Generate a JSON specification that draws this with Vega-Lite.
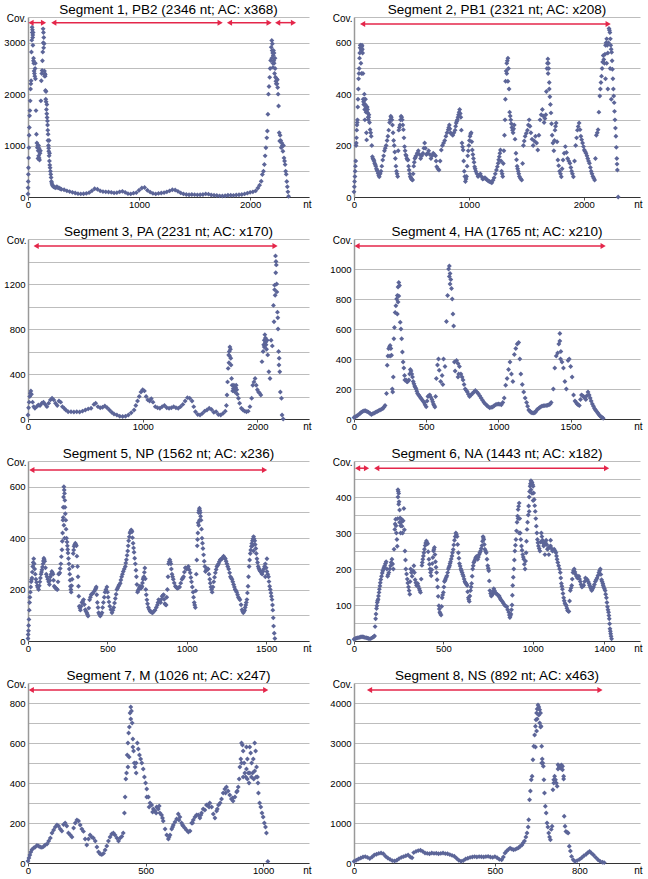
{
"$schema": "https://vega.github.io/schema/vega-lite/v6.json",
"padding": {"left": 3, "top": 2, "right": 2, "bottom": 2},
"datasets": {
"p1": [{"x":0,"y":60},{"x":1,"y":180},{"x":2,"y":300},{"x":3,"y":440},{"x":4,"y":570},{"x":6,"y":760},{"x":8,"y":960},{"x":10,"y":1200},{"x":12,"y":1350},{"x":14,"y":1580},{"x":17,"y":1680},{"x":20,"y":1870},{"x":23,"y":2100},{"x":26,"y":2200},{"x":28,"y":2260},{"x":31,"y":2820},{"x":34,"y":3050},{"x":37,"y":3300},{"x":40,"y":3250},{"x":43,"y":3150},{"x":46,"y":3200},{"x":49,"y":2650},{"x":52,"y":2600},{"x":55,"y":2450},{"x":58,"y":2400},{"x":61,"y":2350},{"x":64,"y":2500},{"x":67,"y":2300},{"x":72,"y":1680},{"x":76,"y":1220},{"x":80,"y":1050},{"x":84,"y":960},{"x":88,"y":1000},{"x":92,"y":900},{"x":96,"y":800},{"x":100,"y":760},{"x":104,"y":720},{"x":108,"y":850},{"x":112,"y":900},{"x":116,"y":1870},{"x":120,"y":2260},{"x":124,"y":2400},{"x":127,"y":2460},{"x":130,"y":2650},{"x":133,"y":2820},{"x":136,"y":3270},{"x":139,"y":3200},{"x":142,"y":3100},{"x":145,"y":2980},{"x":148,"y":2450},{"x":151,"y":2400},{"x":154,"y":2350},{"x":157,"y":2070},{"x":160,"y":1900},{"x":163,"y":1850},{"x":166,"y":1700},{"x":169,"y":1620},{"x":172,"y":1545},{"x":175,"y":1480},{"x":178,"y":1300},{"x":181,"y":1220},{"x":184,"y":1000},{"x":187,"y":890},{"x":190,"y":800},{"x":193,"y":700},{"x":196,"y":620},{"x":199,"y":570},{"x":202,"y":500},{"x":205,"y":440},{"x":208,"y":380},{"x":211,"y":300},{"x":214,"y":270},{"x":218,"y":240},{"x":222,"y":220},{"x":230,"y":200},{"x":240,"y":190},{"x":250,"y":180},{"x":260,"y":200},{"x":270,"y":180},{"x":280,"y":176},{"x":290,"y":160},
{"x":38,"y":3200},{"x":42,"y":3100},{"x":44,"y":2950},{"x":50,"y":2700},{"x":66,"y":2600},{"x":90,"y":750},{"x":95,"y":1000},{"x":100,"y":950},{"x":138,"y":3000},{"x":141,"y":2900},{"x":150,"y":2350},{"x":155,"y":2380},{"x":162,"y":2050},{"x":170,"y":1800},{"x":176,"y":1400},{"x":180,"y":1100},{"x":186,"y":950},{"x":190,"y":1100},{"x":194,"y":850},
{"x":300,"y":150},{"x":325,"y":140},{"x":350,"y":120},{"x":375,"y":105},{"x":400,"y":90},{"x":425,"y":78},{"x":450,"y":65},{"x":475,"y":60},{"x":500,"y":62},{"x":525,"y":70},{"x":550,"y":85},{"x":575,"y":120},{"x":600,"y":160},{"x":625,"y":150},{"x":650,"y":120},{"x":675,"y":105},{"x":700,"y":100},{"x":725,"y":98},{"x":750,"y":90},{"x":775,"y":80},{"x":800,"y":85},{"x":825,"y":100},{"x":850,"y":110},{"x":875,"y":90},{"x":900,"y":65},{"x":925,"y":60},{"x":950,"y":75},{"x":975,"y":85},{"x":1000,"y":130},{"x":1025,"y":175},{"x":1050,"y":185},{"x":1075,"y":130},{"x":1100,"y":95},{"x":1125,"y":70},{"x":1150,"y":60},{"x":1175,"y":70},{"x":1200,"y":78},{"x":1225,"y":85},{"x":1250,"y":100},{"x":1275,"y":120},{"x":1300,"y":140},{"x":1325,"y":135},{"x":1350,"y":110},{"x":1375,"y":80},{"x":1400,"y":60},{"x":1425,"y":50},{"x":1450,"y":45},{"x":1475,"y":48},{"x":1500,"y":46},{"x":1525,"y":42},{"x":1550,"y":45},{"x":1575,"y":50},{"x":1600,"y":60},{"x":1625,"y":55},{"x":1650,"y":40},{"x":1675,"y":33},{"x":1700,"y":28},{"x":1725,"y":22},{"x":1750,"y":20},{"x":1775,"y":25},{"x":1800,"y":33},{"x":1825,"y":35},{"x":1850,"y":32},{"x":1875,"y":38},{"x":1900,"y":45},{"x":1925,"y":48},{"x":1950,"y":60},{"x":1975,"y":75},{"x":2000,"y":90},{"x":2025,"y":100},{"x":2050,"y":120},{"x":2070,"y":176},
{"x":2085,"y":230},{"x":2100,"y":306},{"x":2110,"y":437},{"x":2120,"y":500},{"x":2128,"y":632},{"x":2135,"y":800},{"x":2142,"y":958},{"x":2150,"y":1150},{"x":2155,"y":1284},{"x":2160,"y":1610},{"x":2165,"y":2000},{"x":2170,"y":2150},{"x":2176,"y":2327},{"x":2180,"y":2500},{"x":2185,"y":2653},{"x":2190,"y":2914},{"x":2195,"y":3044},{"x":2200,"y":2980},{"x":2203,"y":2800},{"x":2206,"y":2520},{"x":2210,"y":2850},{"x":2213,"y":2650},{"x":2216,"y":2600},{"x":2220,"y":2400},{"x":2224,"y":2700},{"x":2228,"y":2330},{"x":2232,"y":2250},{"x":2238,"y":2300},{"x":2242,"y":2200},{"x":2248,"y":2130},{"x":2252,"y":2000},{"x":2256,"y":1770},{"x":2262,"y":1250},{"x":2266,"y":1090},{"x":2270,"y":1200},{"x":2275,"y":1100},{"x":2280,"y":960},{"x":2285,"y":1050},{"x":2290,"y":1000},{"x":2295,"y":890},{"x":2300,"y":1000},{"x":2305,"y":760},{"x":2310,"y":700},{"x":2315,"y":630},{"x":2320,"y":500},{"x":2325,"y":440},{"x":2330,"y":300},{"x":2335,"y":200},{"x":2340,"y":100},{"x":2346,"y":13},
{"x":2195,"y":2700},{"x":2205,"y":2600},{"x":2215,"y":2800},{"x":2198,"y":2850},{"x":2208,"y":2750},{"x":2225,"y":2500},{"x":2235,"y":2200},{"x":2245,"y":2280}],
"p2": [{"x":0,"y":20},{"x":5,"y":60},{"x":10,"y":100},{"x":15,"y":140},{"x":18,"y":200},{"x":22,"y":230},{"x":26,"y":280},{"x":30,"y":300},{"x":35,"y":380},{"x":40,"y":460},{"x":45,"y":500},{"x":50,"y":560},{"x":55,"y":590},{"x":60,"y":580},{"x":65,"y":570},{"x":70,"y":590},{"x":75,"y":560},{"x":80,"y":380},{"x":85,"y":360},{"x":90,"y":400},{"x":95,"y":300},{"x":100,"y":380},{"x":105,"y":330},{"x":110,"y":222},{"x":115,"y":350},{"x":120,"y":327},{"x":125,"y":300},{"x":130,"y":320},{"x":140,"y":262},{"x":150,"y":236},{"x":160,"y":157},{"x":170,"y":145},{"x":180,"y":131},{"x":190,"y":120},{"x":200,"y":105},{"x":210,"y":92},{"x":220,"y":79},{"x":235,"y":100},{"x":250,"y":144},{"x":265,"y":180},{"x":280,"y":200},{"x":295,"y":236},{"x":310,"y":290},{"x":320,"y":314},{"x":330,"y":300},{"x":340,"y":250},{"x":350,"y":200},{"x":360,"y":150},{"x":370,"y":100},{"x":380,"y":80},{"x":390,"y":260},{"x":400,"y":280},{"x":410,"y":314},{"x":420,"y":300},{"x":430,"y":262},{"x":440,"y":196},{"x":450,"y":164},{"x":460,"y":150},{"x":470,"y":144},{"x":480,"y":105},{"x":490,"y":80},{"x":500,"y":70},{"x":510,"y":66},{"x":520,"y":120},{"x":530,"y":150},{"x":540,"y":160},{"x":560,"y":180},{"x":580,"y":150},{"x":600,"y":170},{"x":615,"y":210},{"x":630,"y":165},{"x":650,"y":180},{"x":670,"y":150},{"x":690,"y":170},{"x":710,"y":160},{"x":720,"y":118},{"x":740,"y":105},{"x":760,"y":183},{"x":780,"y":210},{"x":800,"y":236},{"x":820,"y":262},{"x":830,"y":280},{"x":840,"y":250},{"x":860,"y":240},{"x":880,"y":260},{"x":890,"y":288},{"x":900,"y":300},{"x":910,"y":320},{"x":920,"y":340},{"x":930,"y":310},{"x":940,"y":210},{"x":950,"y":183},{"x":960,"y":100},{"x":970,"y":60},{"x":980,"y":80},{"x":990,"y":160},{"x":1000,"y":200},{"x":1010,"y":236},{"x":1020,"y":250},{"x":1030,"y":183},{"x":1040,"y":150},{"x":1050,"y":118},{"x":1060,"y":100},{"x":1080,"y":80},{"x":1100,"y":90},{"x":1120,"y":70},{"x":1140,"y":75},{"x":1160,"y":66},{"x":1180,"y":60},{"x":1200,"y":55},{"x":1220,"y":75},{"x":1240,"y":105},{"x":1255,"y":131},{"x":1265,"y":157},{"x":1275,"y":183},{"x":1285,"y":100},{"x":1295,"y":80},{"x":1305,"y":180},{"x":1315,"y":300},{"x":1320,"y":450},{"x":1330,"y":520},{"x":1340,"y":540},{"x":1345,"y":500},{"x":1355,"y":330},{"x":1365,"y":300},{"x":1375,"y":270},{"x":1385,"y":250},{"x":1395,"y":280},{"x":1410,"y":170},{"x":1420,"y":120},{"x":1430,"y":100},{"x":1440,"y":80},{"x":1460,"y":66},{"x":1475,"y":200},{"x":1490,"y":236},{"x":1510,"y":260},{"x":1525,"y":300},{"x":1540,"y":250},{"x":1560,"y":200},{"x":1580,"y":236},{"x":1600,"y":183},{"x":1620,"y":300},{"x":1640,"y":340},{"x":1655,"y":290},{"x":1670,"y":320},{"x":1680,"y":500},{"x":1688,"y":537},{"x":1695,"y":500},{"x":1705,"y":390},{"x":1715,"y":327},{"x":1725,"y":240},{"x":1740,"y":180},{"x":1750,"y":260},{"x":1760,"y":288},{"x":1775,"y":144},{"x":1790,"y":100},{"x":1805,"y":79},{"x":1820,"y":144},{"x":1840,"y":196},{"x":1860,"y":150},{"x":1880,"y":131},{"x":1895,"y":100},{"x":1910,"y":79},{"x":1930,"y":200},{"x":1945,"y":260},{"x":1960,"y":288},{"x":1975,"y":236},{"x":1990,"y":210},{"x":2005,"y":183},{"x":2020,"y":170},{"x":2035,"y":150},{"x":2050,"y":131},{"x":2065,"y":100},{"x":2080,"y":80},{"x":2095,"y":66},{"x":2110,"y":240},{"x":2125,"y":262},{"x":2140,"y":393},{"x":2150,"y":445},{"x":2160,"y":500},{"x":2170,"y":550},{"x":2180,"y":520},{"x":2190,"y":590},{"x":2200,"y":615},{"x":2210,"y":560},{"x":2220,"y":655},{"x":2228,"y":640},{"x":2235,"y":590},{"x":2243,"y":563},{"x":2250,"y":497},{"x":2258,"y":420},{"x":2265,"y":367},{"x":2272,"y":300},{"x":2280,"y":236},{"x":2288,"y":150},{"x":2293,"y":105},{"x":2300,"y":0},
{"x":60,"y":520},{"x":65,"y":480},{"x":1330,"y":480},{"x":1340,"y":450},{"x":1690,"y":480},{"x":1700,"y":420},{"x":2190,"y":460},{"x":2200,"y":520},{"x":2210,"y":420},{"x":2230,"y":500},{"x":2240,"y":380},
{"x":3,"y":40},{"x":8,"y":80},{"x":12,"y":120},{"x":20,"y":210},{"x":24,"y":260},{"x":28,"y":290},{"x":33,"y":350},{"x":38,"y":420},{"x":43,"y":480},{"x":48,"y":540},{"x":53,"y":580},{"x":58,"y":590},{"x":63,"y":575},{"x":68,"y":585},{"x":73,"y":575},{"x":78,"y":480},{"x":83,"y":370},{"x":88,"y":380},{"x":93,"y":340},{"x":98,"y":360},{"x":103,"y":350},{"x":108,"y":250},{"x":113,"y":330},{"x":118,"y":340},{"x":123,"y":310},{"x":128,"y":310},{"x":135,"y":290},{"x":145,"y":250},{"x":155,"y":200},{"x":165,"y":150},{"x":175,"y":140},{"x":185,"y":125},{"x":195,"y":110},{"x":205,"y":100},{"x":215,"y":85},{"x":228,"y":90},{"x":242,"y":120},{"x":258,"y":160},{"x":272,"y":190},{"x":288,"y":220},{"x":302,"y":260},{"x":315,"y":300},{"x":325,"y":310},{"x":335,"y":280},{"x":345,"y":220},{"x":355,"y":175},{"x":365,"y":120},{"x":375,"y":90},{"x":385,"y":180},{"x":395,"y":270},{"x":405,"y":300},{"x":415,"y":310},{"x":425,"y":280},{"x":435,"y":230},{"x":445,"y":180},{"x":455,"y":160},{"x":465,"y":145},{"x":475,"y":120},{"x":485,"y":90},{"x":495,"y":75},{"x":505,"y":68},{"x":515,"y":90},{"x":525,"y":135},{"x":535,"y":155},{"x":550,"y":170},{"x":570,"y":165},{"x":590,"y":160},{"x":608,"y":190},{"x":622,"y":190},{"x":640,"y":170},{"x":660,"y":165},{"x":680,"y":160},{"x":700,"y":165},{"x":715,"y":140},{"x":730,"y":110},{"x":750,"y":140},{"x":770,"y":200},{"x":790,"y":220},{"x":810,"y":250},{"x":825,"y":270},{"x":835,"y":265},{"x":850,"y":245},{"x":870,"y":250},{"x":885,"y":275},{"x":895,"y":295},{"x":905,"y":310},{"x":915,"y":330},{"x":925,"y":325},{"x":935,"y":260},{"x":945,"y":195},{"x":955,"y":140},{"x":965,"y":80},{"x":975,"y":70},{"x":985,"y":120},{"x":995,"y":180},{"x":1005,"y":220},{"x":1015,"y":245},{"x":1025,"y":215},{"x":1035,"y":165},{"x":1045,"y":135},{"x":1055,"y":110},{"x":1070,"y":90},{"x":1090,"y":85},{"x":1110,"y":80},{"x":1130,"y":72},{"x":1150,"y":70},{"x":1170,"y":62},{"x":1190,"y":58},{"x":1210,"y":65},{"x":1230,"y":90},{"x":1248,"y":118},{"x":1260,"y":145},{"x":1270,"y":170},{"x":1280,"y":140},{"x":1290,"y":90},{"x":1300,"y":130},{"x":1310,"y":240},{"x":1318,"y":380},{"x":1325,"y":490},{"x":1335,"y":530},{"x":1350,"y":420},{"x":1360,"y":315},{"x":1370,"y":285},{"x":1380,"y":260},{"x":1390,"y":265},{"x":1402,"y":225},{"x":1415,"y":145},{"x":1425,"y":110},{"x":1435,"y":90},{"x":1450,"y":72},{"x":1468,"y":130},{"x":1482,"y":218},{"x":1500,"y":248},{"x":1518,"y":280},{"x":1532,"y":275},{"x":1550,"y":225},{"x":1570,"y":218},{"x":1590,"y":210},{"x":1610,"y":240},{"x":1630,"y":320},{"x":1648,"y":315},{"x":1662,"y":305},{"x":1675,"y":410},{"x":1684,"y":520},{"x":1692,"y":520},{"x":1700,"y":445},{"x":1710,"y":360},{"x":1720,"y":285},{"x":1732,"y":210},{"x":1745,"y":220},{"x":1755,"y":275},{"x":1768,"y":215},{"x":1782,"y":122},{"x":1798,"y":90},{"x":1812,"y":110},{"x":1830,"y":170},{"x":1850,"y":173},{"x":1870,"y":140},{"x":1888,"y":115},{"x":1902,"y":90},{"x":1920,"y":140},{"x":1938,"y":230},{"x":1952,"y":274},{"x":1968,"y":262},{"x":1982,"y":223},{"x":1998,"y":196},{"x":2012,"y":177},{"x":2028,"y":160},{"x":2042,"y":140},{"x":2058,"y":115},{"x":2072,"y":90},{"x":2088,"y":73},{"x":2102,"y":150},{"x":2118,"y":250},{"x":2132,"y":330},{"x":2145,"y":420},{"x":2155,"y":470},{"x":2165,"y":525},{"x":2175,"y":535},{"x":2185,"y":555},{"x":2195,"y":600},{"x":2205,"y":590},{"x":2215,"y":600},{"x":2224,"y":648},{"x":2232,"y":615},{"x":2239,"y":575},{"x":2247,"y":530},{"x":2254,"y":460},{"x":2261,"y":393},{"x":2268,"y":333},{"x":2276,"y":268},{"x":2284,"y":193},{"x":2290,"y":128}],
"p3": [{"x":0,"y":35},{"x":5,"y":100},{"x":10,"y":150},{"x":15,"y":200},{"x":20,"y":230},{"x":25,"y":250},{"x":30,"y":220},{"x":40,"y":150},{"x":50,"y":110},{"x":60,"y":95},{"x":75,"y":110},{"x":90,"y":125},{"x":105,"y":120},{"x":120,"y":140},{"x":135,"y":150},{"x":150,"y":130},{"x":165,"y":110},{"x":180,"y":140},{"x":195,"y":170},{"x":210,"y":185},{"x":225,"y":170},{"x":240,"y":140},{"x":255,"y":120},{"x":270,"y":160},{"x":285,"y":150},{"x":300,"y":110},{"x":315,"y":95},{"x":330,"y":80},{"x":350,"y":65},{"x":375,"y":65},{"x":400,"y":62},{"x":425,"y":65},{"x":450,"y":62},{"x":475,"y":70},{"x":500,"y":80},{"x":525,"y":90},{"x":550,"y":95},{"x":575,"y":130},{"x":590,"y":140},{"x":610,"y":110},{"x":630,"y":100},{"x":650,"y":105},{"x":670,"y":115},{"x":690,"y":100},{"x":710,"y":80},{"x":730,"y":60},{"x":750,"y":45},{"x":775,"y":35},{"x":800,"y":25},{"x":825,"y":22},{"x":850,"y":25},{"x":875,"y":35},{"x":900,"y":55},{"x":925,"y":80},{"x":940,"y":120},{"x":955,"y":160},{"x":970,"y":200},{"x":985,"y":240},{"x":1000,"y":260},{"x":1015,"y":250},{"x":1030,"y":200},{"x":1045,"y":170},{"x":1060,"y":160},{"x":1075,"y":180},{"x":1090,"y":150},{"x":1110,"y":110},{"x":1130,"y":100},{"x":1150,"y":95},{"x":1170,"y":110},{"x":1190,"y":120},{"x":1210,"y":100},{"x":1230,"y":95},{"x":1250,"y":100},{"x":1270,"y":110},{"x":1290,"y":100},{"x":1310,"y":95},{"x":1330,"y":110},{"x":1350,"y":130},{"x":1370,"y":160},{"x":1390,"y":190},{"x":1410,"y":185},{"x":1430,"y":160},{"x":1445,"y":110},{"x":1460,"y":65},{"x":1480,"y":40},{"x":1500,"y":35},{"x":1520,"y":50},{"x":1540,"y":70},{"x":1560,"y":80},{"x":1580,"y":95},{"x":1600,"y":85},{"x":1620,"y":60},{"x":1640,"y":65},{"x":1660,"y":40},{"x":1680,"y":35},{"x":1700,"y":50},{"x":1720,"y":70},{"x":1730,"y":120},{"x":1735,"y":213},{"x":1740,"y":330},{"x":1745,"y":450},{"x":1750,"y":570},{"x":1755,"y":600},{"x":1760,"y":640},{"x":1765,"y":620},{"x":1770,"y":480},{"x":1775,"y":360},{"x":1780,"y":300},{"x":1785,"y":250},{"x":1790,"y":270},{"x":1795,"y":300},{"x":1800,"y":250},{"x":1805,"y":240},{"x":1810,"y":280},{"x":1815,"y":300},{"x":1820,"y":260},{"x":1825,"y":220},{"x":1835,"y":185},{"x":1845,"y":140},{"x":1860,"y":95},{"x":1875,"y":80},{"x":1890,"y":70},{"x":1905,"y":65},{"x":1920,"y":70},{"x":1935,"y":110},{"x":1950,"y":185},{"x":1960,"y":300},{"x":1970,"y":330},{"x":1980,"y":360},{"x":1990,"y":300},{"x":2000,"y":260},{"x":2010,"y":240},{"x":2020,"y":230},{"x":2030,"y":213},{"x":2040,"y":510},{"x":2050,"y":600},{"x":2055,"y":660},{"x":2060,"y":700},{"x":2065,"y":750},{"x":2070,"y":720},{"x":2075,"y":660},{"x":2080,"y":620},{"x":2090,"y":570},{"x":2100,"y":420},{"x":2110,"y":360},{"x":2120,"y":700},{"x":2130,"y":650},{"x":2140,"y":1010},{"x":2145,"y":865},{"x":2150,"y":1190},{"x":2155,"y":1100},{"x":2158,"y":1450},{"x":2162,"y":1400},{"x":2165,"y":1370},{"x":2170,"y":1130},{"x":2175,"y":950},{"x":2180,"y":800},{"x":2185,"y":600},{"x":2190,"y":540},{"x":2195,"y":420},{"x":2200,"y":240},{"x":2210,"y":185},{"x":2215,"y":35},{"x":2225,"y":0},
{"x":1752,"y":500},{"x":1758,"y":560},{"x":1768,"y":540},{"x":2060,"y":640},{"x":2070,"y":680},{"x":2085,"y":700},{"x":2150,"y":1150},{"x":2160,"y":1300},{"x":2168,"y":1200},{"x":2178,"y":900},{"x":2188,"y":480}],
"p4": [{"x":0,"y":10},{"x":20,"y":20},{"x":40,"y":35},{"x":60,"y":50},{"x":80,"y":55},{"x":100,"y":45},{"x":120,"y":30},{"x":140,"y":40},{"x":160,"y":50},{"x":180,"y":60},{"x":200,"y":70},{"x":215,"y":90},{"x":225,"y":170},{"x":230,"y":358},{"x":235,"y":420},{"x":240,"y":469},{"x":245,"y":480},{"x":250,"y":490},{"x":255,"y":470},{"x":260,"y":425},{"x":265,"y":200},{"x":268,"y":180},{"x":272,"y":280},{"x":276,"y":535},{"x":280,"y":610},{"x":285,"y":710},{"x":290,"y":755},{"x":295,"y":800},{"x":300,"y":823},{"x":305,"y":880},{"x":310,"y":910},{"x":315,"y":890},{"x":320,"y":645},{"x":325,"y":600},{"x":330,"y":535},{"x":335,"y":447},{"x":340,"y":380},{"x":345,"y":340},{"x":350,"y":290},{"x":360,"y":260},{"x":370,"y":248},{"x":380,"y":260},{"x":390,"y":330},{"x":400,"y":300},{"x":410,"y":250},{"x":420,"y":220},{"x":430,"y":200},{"x":440,"y":170},{"x":455,"y":150},{"x":470,"y":130},{"x":485,"y":110},{"x":500,"y":82},{"x":512,"y":150},{"x":525,"y":160},{"x":540,"y":130},{"x":550,"y":100},{"x":560,"y":80},{"x":565,"y":150},{"x":570,"y":270},{"x":578,"y":360},{"x":585,"y":400},{"x":590,"y":325},{"x":600,"y":250},{"x":610,"y":290},{"x":615,"y":230},{"x":620,"y":400},{"x":630,"y":350},{"x":640,"y":650},{"x":648,"y":823},{"x":655,"y":1000},{"x":660,"y":1020},{"x":665,"y":970},{"x":670,"y":930},{"x":675,"y":870},{"x":680,"y":800},{"x":685,"y":700},{"x":690,"y":620},{"x":695,"y":380},{"x":700,"y":320},{"x":710,"y":390},{"x":720,"y":370},{"x":730,"y":350},{"x":740,"y":300},{"x":755,"y":260},{"x":770,"y":200},{"x":785,"y":180},{"x":800,"y":150},{"x":820,"y":170},{"x":840,"y":190},{"x":860,"y":170},{"x":880,"y":140},{"x":900,"y":110},{"x":920,"y":90},{"x":940,"y":75},{"x":960,"y":80},{"x":980,"y":95},{"x":1000,"y":100},{"x":1020,"y":95},{"x":1040,"y":140},{"x":1050,"y":225},{"x":1060,"y":270},{"x":1070,"y":330},{"x":1080,"y":380},{"x":1090,"y":300},{"x":1100,"y":250},{"x":1110,"y":430},{"x":1120,"y":470},{"x":1130,"y":500},{"x":1140,"y":510},{"x":1148,"y":400},{"x":1155,"y":300},{"x":1165,"y":230},{"x":1175,"y":180},{"x":1185,"y":140},{"x":1195,"y":110},{"x":1210,"y":60},{"x":1225,"y":45},{"x":1240,"y":40},{"x":1255,"y":45},{"x":1270,"y":65},{"x":1290,"y":80},{"x":1310,"y":88},{"x":1330,"y":90},{"x":1350,"y":95},{"x":1365,"y":110},{"x":1380,"y":200},{"x":1390,"y":340},{"x":1400,"y":420},{"x":1410,"y":440},{"x":1418,"y":500},{"x":1425,"y":570},{"x":1432,"y":450},{"x":1440,"y":380},{"x":1450,"y":340},{"x":1460,"y":250},{"x":1470,"y":200},{"x":1482,"y":390},{"x":1490,"y":400},{"x":1500,"y":350},{"x":1510,"y":280},{"x":1520,"y":160},{"x":1530,"y":120},{"x":1545,"y":100},{"x":1560,"y":90},{"x":1575,"y":160},{"x":1590,"y":150},{"x":1605,"y":130},{"x":1620,"y":180},{"x":1635,"y":140},{"x":1650,"y":100},{"x":1665,"y":70},{"x":1680,"y":50},{"x":1695,"y":30},{"x":1710,"y":15},{"x":1725,"y":5},
{"x":250,"y":420},{"x":300,"y":700},{"x":305,"y":780},{"x":310,"y":820},{"x":660,"y":950},{"x":665,"y":900},{"x":1425,"y":520},{"x":1430,"y":400},{"x":720,"y":280},{"x":725,"y":300},
{"x":10,"y":15},{"x":30,"y":28},{"x":50,"y":45},{"x":70,"y":55},{"x":90,"y":50},{"x":110,"y":38},{"x":130,"y":35},{"x":150,"y":45},{"x":170,"y":55},{"x":190,"y":65},{"x":208,"y":80},{"x":352,"y":260},{"x":365,"y":250},{"x":375,"y":255},{"x":385,"y":300},{"x":395,"y":320},{"x":405,"y":280},{"x":415,"y":235},{"x":425,"y":210},{"x":435,"y":185},{"x":448,"y":160},{"x":462,"y":140},{"x":478,"y":120},{"x":492,"y":95},{"x":506,"y":120},{"x":518,"y":155},{"x":532,"y":145},{"x":545,"y":115},{"x":555,"y":90},{"x":748,"y":280},{"x":762,"y":230},{"x":778,"y":190},{"x":792,"y":165},{"x":810,"y":160},{"x":830,"y":180},{"x":850,"y":180},{"x":870,"y":155},{"x":890,"y":125},{"x":910,"y":100},{"x":930,"y":82},{"x":950,"y":78},{"x":970,"y":88},{"x":990,"y":98},{"x":1010,"y":98},{"x":1030,"y":110},{"x":1202,"y":85},{"x":1218,"y":52},{"x":1232,"y":42},{"x":1248,"y":42},{"x":1262,"y":55},{"x":1280,"y":72},{"x":1300,"y":85},{"x":1320,"y":89},{"x":1340,"y":92},{"x":1358,"y":100},{"x":1538,"y":110},{"x":1552,"y":95},{"x":1568,"y":130},{"x":1582,"y":155},{"x":1598,"y":140},{"x":1612,"y":155},{"x":1628,"y":160},{"x":1642,"y":120},{"x":1658,"y":85},{"x":1672,"y":60},{"x":1688,"y":40},{"x":1702,"y":22},{"x":1718,"y":10}],
"p5": [{"x":0,"y":10},{"x":3,"y":40},{"x":6,"y":84},{"x":10,"y":150},{"x":15,"y":190},{"x":20,"y":230},{"x":25,"y":245},{"x":30,"y":290},{"x":36,"y":320},{"x":42,"y":280},{"x":50,"y":240},{"x":58,"y":215},{"x":67,"y":200},{"x":75,"y":230},{"x":82,"y":260},{"x":88,"y":277},{"x":95,"y":300},{"x":100,"y":322},{"x":105,"y":310},{"x":115,"y":260},{"x":125,"y":240},{"x":135,"y":220},{"x":141,"y":250},{"x":150,"y":270},{"x":158,"y":260},{"x":165,"y":213},{"x":175,"y":205},{"x":185,"y":200},{"x":193,"y":260},{"x":200,"y":265},{"x":207,"y":300},{"x":214,"y":355},{"x":218,"y":420},{"x":222,"y":520},{"x":226,"y":600},{"x":230,"y":574},{"x":233,"y":520},{"x":238,"y":470},{"x":243,"y":400},{"x":248,"y":370},{"x":252,"y":342},{"x":258,"y":300},{"x":263,"y":260},{"x":267,"y":213},{"x":272,"y":190},{"x":278,"y":240},{"x":285,"y":340},{"x":290,"y":368},{"x":298,"y":380},{"x":305,"y":370},{"x":312,"y":290},{"x":318,"y":213},{"x":323,"y":135},{"x":330,"y":120},{"x":340,"y":150},{"x":350,"y":161},{"x":361,"y":122},{"x":370,"y":110},{"x":378,"y":97},{"x":388,"y":160},{"x":398,"y":180},{"x":410,"y":187},{"x":424,"y":200},{"x":430,"y":210},{"x":437,"y":150},{"x":445,"y":110},{"x":455,"y":97},{"x":466,"y":110},{"x":475,"y":150},{"x":485,"y":190},{"x":497,"y":210},{"x":505,"y":170},{"x":515,"y":135},{"x":529,"y":110},{"x":540,"y":130},{"x":550,"y":165},{"x":560,"y":200},{"x":570,"y":213},{"x":581,"y":225},{"x":590,"y":250},{"x":600,"y":270},{"x":613,"y":290},{"x":620,"y":316},{"x":628,"y":350},{"x":634,"y":390},{"x":642,"y":420},{"x":650,"y":432},{"x":655,"y":425},{"x":662,"y":380},{"x":668,"y":345},{"x":676,"y":300},{"x":683,"y":250},{"x":690,"y":190},{"x":697,"y":200},{"x":705,"y":213},{"x":712,"y":205},{"x":718,"y":213},{"x":725,"y":240},{"x":730,"y":250},{"x":736,"y":284},{"x":742,"y":200},{"x":749,"y":160},{"x":758,"y":130},{"x":770,"y":115},{"x":785,"y":110},{"x":800,"y":120},{"x":815,"y":140},{"x":823,"y":161},{"x":835,"y":150},{"x":845,"y":174},{"x":854,"y":180},{"x":862,"y":145},{"x":870,"y":140},{"x":878,"y":200},{"x":886,"y":300},{"x":893,"y":316},{"x":900,"y":300},{"x":907,"y":260},{"x":915,"y":240},{"x":928,"y":213},{"x":940,"y":205},{"x":955,"y":210},{"x":970,"y":240},{"x":980,"y":250},{"x":991,"y":285},{"x":1000,"y":280},{"x":1010,"y":290},{"x":1022,"y":265},{"x":1030,"y":230},{"x":1040,"y":190},{"x":1047,"y":150},{"x":1054,"y":130},{"x":1060,"y":260},{"x":1066,"y":370},{"x":1070,"y":420},{"x":1075,"y":500},{"x":1080,"y":516},{"x":1085,"y":500},{"x":1090,"y":470},{"x":1096,"y":400},{"x":1102,"y":360},{"x":1110,"y":310},{"x":1118,"y":270},{"x":1127,"y":280},{"x":1135,"y":280},{"x":1145,"y":240},{"x":1152,"y":210},{"x":1160,"y":190},{"x":1170,"y":230},{"x":1180,"y":265},{"x":1190,"y":290},{"x":1200,"y":300},{"x":1211,"y":316},{"x":1222,"y":320},{"x":1232,"y":330},{"x":1243,"y":320},{"x":1253,"y":300},{"x":1264,"y":280},{"x":1275,"y":250},{"x":1285,"y":240},{"x":1295,"y":220},{"x":1305,"y":200},{"x":1315,"y":190},{"x":1325,"y":170},{"x":1335,"y":160},{"x":1348,"y":122},{"x":1356,"y":110},{"x":1365,"y":120},{"x":1372,"y":140},{"x":1379,"y":161},{"x":1386,"y":213},{"x":1393,"y":290},{"x":1400,"y":340},{"x":1407,"y":368},{"x":1414,"y":390},{"x":1421,"y":406},{"x":1428,"y":390},{"x":1435,"y":360},{"x":1442,"y":320},{"x":1450,"y":290},{"x":1458,"y":277},{"x":1465,"y":270},{"x":1475,"y":260},{"x":1485,"y":280},{"x":1495,"y":300},{"x":1505,"y":270},{"x":1515,"y":250},{"x":1522,"y":213},{"x":1530,"y":187},{"x":1537,"y":161},{"x":1542,"y":120},{"x":1547,"y":58},{"x":1555,"y":10},
{"x":222,"y":480},{"x":226,"y":450},{"x":230,"y":400},{"x":1075,"y":450},{"x":1080,"y":470},{"x":1414,"y":370},{"x":1421,"y":350},{"x":1505,"y":320},{"x":1495,"y":250},
{"x":1,"y":25},{"x":4,"y":60},{"x":8,"y":120},{"x":12,"y":170},{"x":17,"y":210},{"x":22,"y":238},{"x":27,"y":268},{"x":33,"y":305},{"x":39,"y":300},{"x":46,"y":260},{"x":54,"y":228},{"x":62,"y":208},{"x":71,"y":215},{"x":78,"y":245},{"x":85,"y":268},{"x":91,"y":288},{"x":97,"y":311},{"x":102,"y":316},{"x":110,"y":285},{"x":120,"y":250},{"x":130,"y":230},{"x":138,"y":235},{"x":145,"y":260},{"x":154,"y":265},{"x":161,"y":236},{"x":170,"y":209},{"x":180,"y":202},{"x":189,"y":230},{"x":196,"y":262},{"x":203,"y":282},{"x":210,"y":328},{"x":216,"y":388},{"x":220,"y":470},{"x":224,"y":560},{"x":228,"y":587},{"x":232,"y":547},{"x":235,"y":495},{"x":240,"y":435},{"x":246,"y":385},{"x":250,"y":356},{"x":255,"y":321},{"x":260,"y":280},{"x":265,"y":236},{"x":270,"y":200},{"x":275,"y":215},{"x":281,"y":290},{"x":288,"y":354},{"x":294,"y":374},{"x":301,"y":375},{"x":308,"y":330},{"x":315,"y":250},{"x":320,"y":174},{"x":327,"y":128},{"x":335,"y":135},{"x":345,"y":155},{"x":355,"y":142},{"x":365,"y":116},{"x":374,"y":104},{"x":383,"y":128},{"x":393,"y":170},{"x":404,"y":184},{"x":417,"y":193},{"x":427,"y":205},{"x":433,"y":180},{"x":441,"y":130},{"x":450,"y":104},{"x":460,"y":103},{"x":470,"y":130},{"x":480,"y":170},{"x":491,"y":200},{"x":501,"y":190},{"x":510,"y":152},{"x":522,"y":122},{"x":535,"y":120},{"x":545,"y":148},{"x":555,"y":182},{"x":565,"y":206},{"x":575,"y":219},{"x":585,"y":237},{"x":595,"y":260},{"x":606,"y":280},{"x":616,"y":303},{"x":624,"y":333},{"x":631,"y":370},{"x":638,"y":405},{"x":646,"y":426},{"x":652,"y":430},{"x":658,"y":402},{"x":665,"y":362},{"x":672,"y":322},{"x":680,"y":275},{"x":686,"y":220},{"x":693,"y":195},{"x":701,"y":206},{"x":708,"y":209},{"x":715,"y":209},{"x":721,"y":226},{"x":727,"y":245},{"x":733,"y":267},{"x":739,"y":242},{"x":745,"y":180},{"x":753,"y":145},{"x":764,"y":122},{"x":778,"y":112},{"x":792,"y":115},{"x":808,"y":130},{"x":819,"y":150},{"x":829,"y":155},{"x":840,"y":162},{"x":850,"y":177},{"x":858,"y":162},{"x":866,"y":142},{"x":874,"y":170},{"x":882,"y":250},{"x":889,"y":308},{"x":896,"y":308},{"x":903,"y":280},{"x":911,"y":250},{"x":921,"y":226},{"x":934,"y":209},{"x":947,"y":207},{"x":962,"y":225},{"x":975,"y":245},{"x":985,"y":268},{"x":995,"y":282},{"x":1005,"y":285},{"x":1016,"y":277},{"x":1026,"y":247},{"x":1035,"y":210},{"x":1043,"y":170},{"x":1050,"y":140},{"x":1057,"y":195},{"x":1063,"y":315},{"x":1068,"y":395},{"x":1072,"y":460},{"x":1077,"y":508},{"x":1082,"y":508},{"x":1087,"y":485},{"x":1093,"y":435},{"x":1099,"y":380},{"x":1106,"y":335},{"x":1114,"y":290},{"x":1122,"y":275},{"x":1131,"y":280},{"x":1140,"y":260},{"x":1148,"y":225},{"x":1156,"y":200},{"x":1165,"y":210},{"x":1175,"y":248},{"x":1185,"y":278},{"x":1195,"y":295},{"x":1205,"y":308},{"x":1216,"y":318},{"x":1227,"y":325},{"x":1237,"y":325},{"x":1248,"y":310},{"x":1258,"y":290},{"x":1270,"y":265},{"x":1280,"y":245},{"x":1290,"y":230},{"x":1300,"y":210},{"x":1310,"y":195},{"x":1320,"y":180},{"x":1330,"y":165},{"x":1342,"y":141},{"x":1352,"y":116},{"x":1360,"y":115},{"x":1368,"y":130},{"x":1375,"y":150},{"x":1382,"y":187},{"x":1389,"y":250},{"x":1396,"y":315},{"x":1403,"y":354},{"x":1410,"y":379},{"x":1417,"y":398},{"x":1424,"y":398},{"x":1431,"y":375},{"x":1438,"y":340},{"x":1446,"y":305},{"x":1454,"y":283},{"x":1461,"y":273},{"x":1470,"y":265},{"x":1480,"y":270},{"x":1490,"y":290},{"x":1500,"y":285},{"x":1510,"y":260},{"x":1518,"y":231},{"x":1526,"y":200},{"x":1533,"y":174},{"x":1540,"y":140},{"x":1545,"y":90},{"x":1551,"y":30}],
"p6": [{"x":0,"y":5},{"x":15,"y":8},{"x":30,"y":10},{"x":45,"y":12},{"x":60,"y":10},{"x":75,"y":8},{"x":90,"y":6},{"x":105,"y":10},{"x":115,"y":14},{"x":121,"y":62},{"x":126,"y":90},{"x":130,"y":107},{"x":135,"y":116},{"x":140,"y":135},{"x":145,"y":153},{"x":150,"y":171},{"x":158,"y":189},{"x":165,"y":200},{"x":172,"y":209},{"x":180,"y":220},{"x":188,"y":180},{"x":195,"y":190},{"x":205,"y":209},{"x":212,"y":227},{"x":220,"y":200},{"x":228,"y":310},{"x":233,"y":338},{"x":237,"y":300},{"x":242,"y":263},{"x":246,"y":420},{"x":250,"y":410},{"x":255,"y":364},{"x":261,"y":320},{"x":266,"y":338},{"x":272,"y":300},{"x":279,"y":368},{"x":285,"y":250},{"x":290,"y":200},{"x":298,"y":172},{"x":305,"y":150},{"x":312,"y":130},{"x":317,"y":200},{"x":325,"y":180},{"x":335,"y":209},{"x":342,"y":170},{"x":350,"y":154},{"x":356,"y":160},{"x":365,"y":145},{"x":372,"y":135},{"x":380,"y":210},{"x":385,"y":227},{"x":391,"y":245},{"x":398,"y":265},{"x":405,"y":278},{"x":412,"y":270},{"x":419,"y":227},{"x":425,"y":200},{"x":432,"y":181},{"x":438,"y":215},{"x":445,"y":250},{"x":450,"y":260},{"x":456,"y":220},{"x":462,"y":190},{"x":468,"y":150},{"x":475,"y":98},{"x":480,"y":80},{"x":487,"y":72},{"x":493,"y":120},{"x":500,"y":135},{"x":506,"y":165},{"x":512,"y":172},{"x":520,"y":181},{"x":528,"y":200},{"x":535,"y":209},{"x":540,"y":220},{"x":548,"y":236},{"x":555,"y":254},{"x":562,"y":280},{"x":570,"y":300},{"x":577,"y":290},{"x":584,"y":245},{"x":590,"y":215},{"x":598,"y":200},{"x":605,"y":190},{"x":612,"y":180},{"x":620,"y":165},{"x":627,"y":160},{"x":633,"y":154},{"x":640,"y":120},{"x":645,"y":110},{"x":652,"y":140},{"x":658,"y":160},{"x":664,"y":200},{"x":670,"y":218},{"x":678,"y":227},{"x":685,"y":235},{"x":692,"y":227},{"x":700,"y":240},{"x":708,"y":250},{"x":716,"y":265},{"x":722,"y":290},{"x":726,"y":282},{"x":732,"y":255},{"x":740,"y":245},{"x":748,"y":209},{"x":754,"y":195},{"x":760,"y":140},{"x":768,"y":125},{"x":775,"y":130},{"x":782,"y":145},{"x":790,"y":135},{"x":800,"y":130},{"x":812,"y":125},{"x":819,"y":117},{"x":830,"y":110},{"x":842,"y":100},{"x":855,"y":95},{"x":866,"y":80},{"x":872,"y":65},{"x":878,"y":75},{"x":884,"y":100},{"x":888,"y":154},{"x":894,"y":200},{"x":900,"y":250},{"x":906,"y":282},{"x":912,"y":330},{"x":918,"y":365},{"x":924,"y":383},{"x":930,"y":300},{"x":937,"y":264},{"x":944,"y":240},{"x":950,"y":227},{"x":957,"y":200},{"x":963,"y":245},{"x":968,"y":310},{"x":975,"y":350},{"x":980,"y":400},{"x":985,"y":430},{"x":990,"y":445},{"x":996,"y":440},{"x":1002,"y":430},{"x":1008,"y":393},{"x":1014,"y":360},{"x":1020,"y":319},{"x":1026,"y":282},{"x":1032,"y":264},{"x":1040,"y":250},{"x":1048,"y":300},{"x":1055,"y":280},{"x":1061,"y":264},{"x":1068,"y":270},{"x":1075,"y":280},{"x":1082,"y":255},{"x":1090,"y":260},{"x":1100,"y":264},{"x":1110,"y":250},{"x":1120,"y":255},{"x":1130,"y":245},{"x":1136,"y":227},{"x":1145,"y":209},{"x":1154,"y":190},{"x":1160,"y":160},{"x":1166,"y":144},{"x":1173,"y":120},{"x":1180,"y":105},{"x":1188,"y":98},{"x":1195,"y":85},{"x":1202,"y":82},{"x":1210,"y":140},{"x":1218,"y":154},{"x":1225,"y":190},{"x":1232,"y":200},{"x":1240,"y":185},{"x":1250,"y":175},{"x":1258,"y":180},{"x":1266,"y":165},{"x":1275,"y":150},{"x":1285,"y":155},{"x":1295,"y":175},{"x":1305,"y":170},{"x":1315,"y":160},{"x":1322,"y":150},{"x":1330,"y":140},{"x":1340,"y":150},{"x":1350,"y":165},{"x":1360,"y":175},{"x":1370,"y":190},{"x":1378,"y":200},{"x":1385,"y":170},{"x":1392,"y":160},{"x":1397,"y":150},{"x":1405,"y":140},{"x":1412,"y":120},{"x":1418,"y":95},{"x":1424,"y":80},{"x":1428,"y":62},{"x":1432,"y":34},{"x":1436,"y":20},{"x":1441,"y":6},
{"x":246,"y":400},{"x":250,"y":380},{"x":255,"y":330},{"x":261,"y":300},{"x":990,"y":420},{"x":996,"y":410},{"x":1002,"y":390},{"x":980,"y":360},{"x":918,"y":340},{"x":924,"y":300},{"x":1068,"y":240},{"x":1090,"y":240},{"x":1100,"y":280},
{"x":8,"y":7},{"x":22,"y":9},{"x":38,"y":11},{"x":52,"y":11},{"x":68,"y":9},{"x":82,"y":7},{"x":98,"y":8},{"x":110,"y":12},{"x":118,"y":40},{"x":123,"y":75},{"x":128,"y":98},{"x":132,"y":112},{"x":137,"y":125},{"x":142,"y":144},{"x":147,"y":162},{"x":154,"y":180},{"x":161,"y":195},{"x":168,"y":205},{"x":176,"y":215},{"x":184,"y":200},{"x":191,"y":185},{"x":200,"y":200},{"x":208,"y":218},{"x":216,"y":214},{"x":224,"y":255},{"x":230,"y":325},{"x":235,"y":320},{"x":240,"y":282},{"x":244,"y":340},{"x":248,"y":415},{"x":252,"y":387},{"x":258,"y":342},{"x":263,"y":329},{"x":269,"y":319},{"x":275,"y":334},{"x":282,"y":309},{"x":288,"y":225},{"x":294,"y":186},{"x":301,"y":161},{"x":308,"y":140},{"x":314,"y":165},{"x":321,"y":190},{"x":330,"y":195},{"x":338,"y":190},{"x":346,"y":162},{"x":353,"y":157},{"x":360,"y":152},{"x":368,"y":140},{"x":376,"y":172},{"x":382,"y":218},{"x":388,"y":236},{"x":394,"y":255},{"x":401,"y":272},{"x":408,"y":274},{"x":415,"y":248},{"x":422,"y":213},{"x":428,"y":190},{"x":435,"y":198},{"x":441,"y":232},{"x":447,"y":255},{"x":453,"y":240},{"x":459,"y":205},{"x":465,"y":170},{"x":471,"y":124},{"x":477,"y":89},{"x":483,"y":76},{"x":490,"y":96},{"x":496,"y":128},{"x":503,"y":150},{"x":509,"y":168},{"x":516,"y":177},{"x":524,"y":190},{"x":531,"y":205},{"x":537,"y":215},{"x":544,"y":228},{"x":551,"y":245},{"x":558,"y":267},{"x":566,"y":290},{"x":573,"y":295},{"x":580,"y":268},{"x":587,"y":230},{"x":594,"y":208},{"x":601,"y":195},{"x":608,"y":185},{"x":616,"y":172},{"x":623,"y":162},{"x":630,"y":157},{"x":636,"y":137},{"x":642,"y":115},{"x":648,"y":125},{"x":655,"y":150},{"x":661,"y":180},{"x":667,"y":209},{"x":674,"y":222},{"x":681,"y":231},{"x":688,"y":231},{"x":696,"y":233},{"x":704,"y":245},{"x":712,"y":257},{"x":719,"y":277},{"x":724,"y":286},{"x":729,"y":268},{"x":736,"y":250},{"x":744,"y":227},{"x":751,"y":202},{"x":757,"y":167},{"x":764,"y":132},{"x":771,"y":127},{"x":778,"y":137},{"x":786,"y":140},{"x":795,"y":132},{"x":806,"y":127},{"x":815,"y":121},{"x":824,"y":113},{"x":836,"y":105},{"x":848,"y":97},{"x":860,"y":87},{"x":869,"y":72},{"x":875,"y":70},{"x":881,"y":87},{"x":886,"y":127},{"x":891,"y":177},{"x":897,"y":225},{"x":903,"y":266},{"x":909,"y":306},{"x":915,"y":347},{"x":921,"y":374},{"x":927,"y":340},{"x":933,"y":282},{"x":940,"y":252},{"x":947,"y":233},{"x":953,"y":213},{"x":960,"y":222},{"x":965,"y":277},{"x":971,"y":330},{"x":977,"y":375},{"x":982,"y":415},{"x":987,"y":437},{"x":993,"y":442},{"x":999,"y":435},{"x":1005,"y":411},{"x":1011,"y":376},{"x":1017,"y":340},{"x":1023,"y":300},{"x":1029,"y":273},{"x":1036,"y":257},{"x":1044,"y":275},{"x":1051,"y":290},{"x":1058,"y":272},{"x":1064,"y":267},{"x":1071,"y":275},{"x":1078,"y":268},{"x":1086,"y":257},{"x":1095,"y":262},{"x":1105,"y":257},{"x":1115,"y":252},{"x":1125,"y":250},{"x":1133,"y":236},{"x":1140,"y":218},{"x":1150,"y":200},{"x":1157,"y":175},{"x":1163,"y":152},{"x":1169,"y":132},{"x":1176,"y":112},{"x":1184,"y":101},{"x":1191,"y":91},{"x":1198,"y":83},{"x":1206,"y":111},{"x":1214,"y":147},{"x":1221,"y":172},{"x":1228,"y":195},{"x":1236,"y":192},{"x":1245,"y":180},{"x":1254,"y":177},{"x":1262,"y":172},{"x":1270,"y":157},{"x":1280,"y":152},{"x":1290,"y":165},{"x":1300,"y":172},{"x":1310,"y":165},{"x":1318,"y":155},{"x":1326,"y":145},{"x":1335,"y":145},{"x":1345,"y":157},{"x":1355,"y":170},{"x":1365,"y":182},{"x":1374,"y":195},{"x":1381,"y":185},{"x":1388,"y":165},{"x":1394,"y":155},{"x":1401,"y":145},{"x":1408,"y":130},{"x":1415,"y":107},{"x":1421,"y":87},{"x":1426,"y":71},{"x":1430,"y":48},{"x":1434,"y":27},{"x":1438,"y":13}],
"p7": [{"x":0,"y":10},{"x":4,"y":25},{"x":8,"y":40},{"x":12,"y":55},{"x":17,"y":67},{"x":24,"y":75},{"x":31,"y":80},{"x":38,"y":88},{"x":45,"y":85},{"x":52,"y":80},{"x":59,"y":78},{"x":66,"y":82},{"x":73,"y":90},{"x":81,"y":95},{"x":88,"y":110},{"x":95,"y":125},{"x":102,"y":150},{"x":109,"y":165},{"x":116,"y":180},{"x":123,"y":190},{"x":130,"y":185},{"x":137,"y":170},{"x":144,"y":160},{"x":151,"y":192},{"x":158,"y":200},{"x":165,"y":185},{"x":172,"y":150},{"x":180,"y":140},{"x":187,"y":130},{"x":194,"y":175},{"x":201,"y":200},{"x":208,"y":215},{"x":215,"y":210},{"x":222,"y":190},{"x":229,"y":170},{"x":236,"y":158},{"x":243,"y":120},{"x":250,"y":90},{"x":257,"y":120},{"x":264,"y":140},{"x":271,"y":130},{"x":278,"y":125},{"x":286,"y":110},{"x":293,"y":80},{"x":300,"y":55},{"x":307,"y":45},{"x":314,"y":42},{"x":321,"y":48},{"x":328,"y":65},{"x":335,"y":85},{"x":342,"y":110},{"x":349,"y":130},{"x":356,"y":145},{"x":363,"y":150},{"x":370,"y":140},{"x":378,"y":125},{"x":385,"y":110},{"x":392,"y":125},{"x":399,"y":133},{"x":405,"y":150},{"x":410,"y":250},{"x":413,"y":330},{"x":416,"y":420},{"x":419,"y":450},{"x":422,"y":540},{"x":425,"y":600},{"x":428,"y":650},{"x":431,"y":680},{"x":434,"y":750},{"x":437,"y":780},{"x":440,"y":760},{"x":443,"y":700},{"x":446,"y":620},{"x":449,"y":560},{"x":452,"y":500},{"x":455,"y":480},{"x":460,"y":450},{"x":465,"y":600},{"x":469,"y":570},{"x":474,"y":540},{"x":479,"y":520},{"x":484,"y":500},{"x":490,"y":470},{"x":495,"y":430},{"x":500,"y":400},{"x":505,"y":370},{"x":512,"y":330},{"x":519,"y":300},{"x":526,"y":290},{"x":533,"y":270},{"x":540,"y":260},{"x":547,"y":280},{"x":554,"y":270},{"x":561,"y":250},{"x":568,"y":240},{"x":575,"y":210},{"x":583,"y":170},{"x":590,"y":140},{"x":597,"y":120},{"x":604,"y":140},{"x":611,"y":170},{"x":618,"y":190},{"x":625,"y":205},{"x":632,"y":220},{"x":639,"y":245},{"x":646,"y":230},{"x":653,"y":200},{"x":660,"y":185},{"x":667,"y":175},{"x":674,"y":165},{"x":682,"y":155},{"x":689,"y":160},{"x":696,"y":200},{"x":703,"y":215},{"x":710,"y":230},{"x":717,"y":240},{"x":724,"y":240},{"x":731,"y":225},{"x":738,"y":250},{"x":745,"y":270},{"x":752,"y":265},{"x":759,"y":290},{"x":766,"y":290},{"x":773,"y":300},{"x":781,"y":280},{"x":788,"y":245},{"x":795,"y":225},{"x":802,"y":260},{"x":810,"y":290},{"x":817,"y":300},{"x":823,"y":320},{"x":830,"y":350},{"x":837,"y":370},{"x":844,"y":380},{"x":851,"y":360},{"x":858,"y":340},{"x":865,"y":320},{"x":872,"y":310},{"x":880,"y":330},{"x":887,"y":355},{"x":894,"y":380},{"x":901,"y":480},{"x":905,"y":520},{"x":908,"y":600},{"x":912,"y":590},{"x":915,"y":560},{"x":919,"y":500},{"x":922,"y":450},{"x":926,"y":430},{"x":929,"y":580},{"x":933,"y":520},{"x":937,"y":450},{"x":940,"y":400},{"x":943,"y":580},{"x":947,"y":550},{"x":951,"y":500},{"x":955,"y":450},{"x":960,"y":420},{"x":964,"y":600},{"x":968,"y":560},{"x":972,"y":480},{"x":976,"y":430},{"x":980,"y":350},{"x":985,"y":300},{"x":990,"y":280},{"x":995,"y":250},{"x":1000,"y":230},{"x":1005,"y":200},{"x":1010,"y":180},{"x":1014,"y":150},{"x":1020,"y":8},
{"x":425,"y":480},{"x":430,"y":530},{"x":437,"y":720},{"x":446,"y":580},{"x":460,"y":500},{"x":908,"y":500},{"x":915,"y":430},{"x":929,"y":470},{"x":943,"y":450},{"x":964,"y":460},
{"x":505,"y":330},{"x":515,"y":280},{"x":530,"y":255},{"x":545,"y":250},{"x":558,"y":285},{"x":572,"y":225},{"x":600,"y":130},{"x":615,"y":180},{"x":642,"y":215},{"x":657,"y":190},{"x":700,"y":200},{"x":735,"y":240},{"x":770,"y":280},{"x":805,"y":270},{"x":840,"y":350},{"x":870,"y":325},{"x":890,"y":360},{"x":898,"y":420},{"x":933,"y":420},{"x":950,"y":430},{"x":958,"y":520},{"x":970,"y":430},{"x":978,"y":400}],
"p8": [{"x":0,"y":40},{"x":8,"y":70},{"x":16,"y":100},{"x":24,"y":125},{"x":32,"y":150},{"x":40,"y":160},{"x":48,"y":140},{"x":56,"y":110},{"x":64,"y":150},{"x":72,"y":200},{"x":80,"y":220},{"x":88,"y":240},{"x":96,"y":250},{"x":104,"y":230},{"x":112,"y":170},{"x":120,"y":125},{"x":128,"y":90},{"x":136,"y":60},{"x":144,"y":50},{"x":152,"y":70},{"x":160,"y":110},{"x":168,"y":140},{"x":176,"y":160},{"x":184,"y":180},{"x":192,"y":200},{"x":200,"y":150},{"x":206,"y":130},{"x":212,"y":260},{"x":220,"y":290},{"x":228,"y":310},{"x":236,"y":320},{"x":244,"y":290},{"x":252,"y":250},{"x":260,"y":240},{"x":268,"y":230},{"x":276,"y":250},{"x":284,"y":240},{"x":292,"y":245},{"x":300,"y":230},{"x":308,"y":240},{"x":316,"y":250},{"x":324,"y":235},{"x":332,"y":230},{"x":340,"y":210},{"x":348,"y":190},{"x":356,"y":170},{"x":364,"y":120},{"x":372,"y":70},{"x":380,"y":45},{"x":388,"y":60},{"x":396,"y":100},{"x":404,"y":120},{"x":412,"y":140},{"x":420,"y":150},{"x":428,"y":160},{"x":436,"y":150},{"x":444,"y":160},{"x":452,"y":155},{"x":460,"y":150},{"x":468,"y":160},{"x":476,"y":165},{"x":484,"y":150},{"x":492,"y":140},{"x":500,"y":160},{"x":508,"y":130},{"x":516,"y":90},{"x":524,"y":80},{"x":530,"y":150},{"x":536,"y":250},{"x":542,"y":300},{"x":548,"y":340},{"x":554,"y":370},{"x":560,"y":350},{"x":566,"y":330},{"x":572,"y":340},{"x":578,"y":360},{"x":584,"y":380},{"x":590,"y":420},{"x":596,"y":450},{"x":600,"y":500},{"x":605,"y":550},{"x":610,"y":650},{"x":614,"y":750},{"x":618,"y":900},{"x":620,"y":1083},{"x":623,"y":1580},{"x":626,"y":1800},{"x":629,"y":2080},{"x":632,"y":2170},{"x":635,"y":2580},{"x":638,"y":2920},{"x":641,"y":3200},{"x":644,"y":3420},{"x":646,"y":3580},{"x":648,"y":3750},{"x":650,"y":3850},{"x":653,"y":3950},{"x":656,"y":3900},{"x":659,"y":3830},{"x":662,"y":3750},{"x":664,"y":3420},{"x":666,"y":2920},{"x":668,"y":2600},{"x":670,"y":2500},{"x":672,"y":2420},{"x":674,"y":2083},{"x":676,"y":1750},{"x":679,"y":1420},{"x":682,"y":1250},{"x":685,"y":1000},{"x":688,"y":900},{"x":691,"y":750},{"x":694,"y":650},{"x":697,"y":580},{"x":700,"y":840},{"x":703,"y":920},{"x":706,"y":1830},{"x":709,"y":2083},{"x":712,"y":2167},{"x":715,"y":2083},{"x":718,"y":2000},{"x":721,"y":1917},{"x":724,"y":2458},{"x":728,"y":2400},{"x":732,"y":2375},{"x":736,"y":2400},{"x":740,"y":2333},{"x":744,"y":2167},{"x":746,"y":1167},{"x":749,"y":917},{"x":752,"y":790},{"x":756,"y":770},{"x":760,"y":750},{"x":764,"y":420},{"x":768,"y":300},{"x":772,"y":165},{"x":778,"y":80},{"x":784,"y":40},{"x":792,"y":60},{"x":800,"y":90},{"x":808,"y":130},{"x":816,"y":180},{"x":824,"y":220},{"x":830,"y":260},{"x":836,"y":290},{"x":842,"y":250},{"x":850,"y":200},{"x":858,"y":140},{"x":866,"y":80},{"x":874,"y":40},{"x":882,"y":20},{"x":888,"y":10},
{"x":644,"y":2900},{"x":648,"y":3300},{"x":650,"y":3600},{"x":656,"y":3700},{"x":659,"y":3500},{"x":662,"y":3400},{"x":666,"y":2500},{"x":709,"y":2000},{"x":724,"y":2350},{"x":736,"y":2450},{"x":740,"y":2420},{"x":744,"y":2100}],
"a1": [{"x1":27,"x2":140,"y":3390},{"x1":232,"x2":1730,"y":3390},{"x1":1814,"x2":2171,"y":3390},{"x1":2248,"x2":2390,"y":3390}],
"a2": [{"x1":75,"x2":2213,"y":673}],
"a3": [{"x1":71,"x2":2154,"y":1538}],
"a4": [{"x1":21,"x2":1725,"y":1153}],
"a5": [{"x1":24,"x2":1490,"y":665}],
"a6": [{"x1":20,"x2":70,"y":480},{"x1":127,"x2":1413,"y":480}],
"a7": [{"x1":14,"x2":1011,"y":865}],
"a8": [{"x1":55,"x2":873,"y":4325}]
},
"concat": [
{"width": 281, "height": 180, "title": {"text": "Segment 1, PB2 (2346 nt; AC: x368)", "frame": "group"}, "resolve": {"axis": {"y": "independent"}},
 "layer": [
  {"data": {"name": "p1"}, "mark": {"type": "point", "shape": "diamond", "filled": true, "size": 24, "color": "#5c6598", "opacity": 1},
   "encoding": {"x": {"field": "x", "type": "quantitative", "scale": {"domain": [0, 2530], "nice": false}, "axis": {"title": "nt", "titleX": 283, "format": "d", "values": [0,1000,2000]}},
    "y": {"field": "y", "type": "quantitative", "scale": {"domain": [0, 3500], "nice": false}, "axis": {"orient": "left", "title": null, "labels": false, "domain": false, "ticks": false, "grid": true, "values": [0,500,1000,1500,2000,2500,3000,3500]}}}},
  {"data": {"name": "a1"}, "mark": {"type": "rule", "color": "#e4264a", "strokeWidth": 1.5}, "encoding": {"x": {"field": "x1", "type": "quantitative"}, "x2": {"field": "x2"}, "y": {"field": "y", "type": "quantitative", "axis": {"orient": "left", "title": "Cov.", "format": "d", "grid": false, "labelOverlap": false, "values": [0,1000,2000,3000]}}}},
  {"data": {"name": "a1"}, "mark": {"type": "point", "shape": "triangle-left", "filled": true, "size": 36, "color": "#e4264a", "opacity": 1}, "encoding": {"x": {"field": "x1", "type": "quantitative"}, "y": {"field": "y", "type": "quantitative", "axis": null}}},
  {"data": {"name": "a1"}, "mark": {"type": "point", "shape": "triangle-right", "filled": true, "size": 36, "color": "#e4264a", "opacity": 1}, "encoding": {"x": {"field": "x2", "type": "quantitative"}, "y": {"field": "y", "type": "quantitative", "axis": null}}}
 ]},
{"width": 286, "height": 180, "title": {"text": "Segment 2, PB1 (2321 nt; AC: x208)", "frame": "group"}, "resolve": {"axis": {"y": "independent"}},
 "layer": [
  {"data": {"name": "p2"}, "mark": {"type": "point", "shape": "diamond", "filled": true, "size": 24, "color": "#5c6598", "opacity": 1},
   "encoding": {"x": {"field": "x", "type": "quantitative", "scale": {"domain": [0, 2490], "nice": false}, "axis": {"title": "nt", "titleX": 288, "format": "d", "values": [0,1000,2000]}},
    "y": {"field": "y", "type": "quantitative", "scale": {"domain": [0, 700], "nice": false}, "axis": {"orient": "left", "title": null, "labels": false, "domain": false, "ticks": false, "grid": true, "values": [0,100,200,300,400,500,600,700]}}}},
  {"data": {"name": "a2"}, "mark": {"type": "rule", "color": "#e4264a", "strokeWidth": 1.5}, "encoding": {"x": {"field": "x1", "type": "quantitative"}, "x2": {"field": "x2"}, "y": {"field": "y", "type": "quantitative", "axis": {"orient": "left", "title": "Cov.", "format": "d", "grid": false, "labelOverlap": false, "values": [0,200,400,600]}}}},
  {"data": {"name": "a2"}, "mark": {"type": "point", "shape": "triangle-left", "filled": true, "size": 36, "color": "#e4264a", "opacity": 1}, "encoding": {"x": {"field": "x1", "type": "quantitative"}, "y": {"field": "y", "type": "quantitative", "axis": null}}},
  {"data": {"name": "a2"}, "mark": {"type": "point", "shape": "triangle-right", "filled": true, "size": 36, "color": "#e4264a", "opacity": 1}, "encoding": {"x": {"field": "x2", "type": "quantitative"}, "y": {"field": "y", "type": "quantitative", "axis": null}}}
 ]},
{"width": 281, "height": 180, "title": {"text": "Segment 3, PA (2231 nt; AC: x170)", "frame": "group"}, "resolve": {"axis": {"y": "independent"}},
 "layer": [
  {"data": {"name": "p3"}, "mark": {"type": "point", "shape": "diamond", "filled": true, "size": 24, "color": "#5c6598", "opacity": 1},
   "encoding": {"x": {"field": "x", "type": "quantitative", "scale": {"domain": [0, 2450], "nice": false}, "axis": {"title": "nt", "titleX": 283, "format": "d", "values": [0,1000,2000]}},
    "y": {"field": "y", "type": "quantitative", "scale": {"domain": [0, 1600], "nice": false}, "axis": {"orient": "left", "title": null, "labels": false, "domain": false, "ticks": false, "grid": true, "values": [0,200,400,600,800,1000,1200,1400,1600]}}}},
  {"data": {"name": "a3"}, "mark": {"type": "rule", "color": "#e4264a", "strokeWidth": 1.5}, "encoding": {"x": {"field": "x1", "type": "quantitative"}, "x2": {"field": "x2"}, "y": {"field": "y", "type": "quantitative", "axis": {"orient": "left", "title": "Cov.", "format": "d", "grid": false, "labelOverlap": false, "values": [0,400,800,1200]}}}},
  {"data": {"name": "a3"}, "mark": {"type": "point", "shape": "triangle-left", "filled": true, "size": 36, "color": "#e4264a", "opacity": 1}, "encoding": {"x": {"field": "x1", "type": "quantitative"}, "y": {"field": "y", "type": "quantitative", "axis": null}}},
  {"data": {"name": "a3"}, "mark": {"type": "point", "shape": "triangle-right", "filled": true, "size": 36, "color": "#e4264a", "opacity": 1}, "encoding": {"x": {"field": "x2", "type": "quantitative"}, "y": {"field": "y", "type": "quantitative", "axis": null}}}
 ]},
{"width": 286, "height": 180, "title": {"text": "Segment 4, HA (1765 nt; AC: x210)", "frame": "group"}, "resolve": {"axis": {"y": "independent"}},
 "layer": [
  {"data": {"name": "p4"}, "mark": {"type": "point", "shape": "diamond", "filled": true, "size": 24, "color": "#5c6598", "opacity": 1},
   "encoding": {"x": {"field": "x", "type": "quantitative", "scale": {"domain": [0, 1980], "nice": false}, "axis": {"title": "nt", "titleX": 288, "format": "d", "values": [0,500,1000,1500]}},
    "y": {"field": "y", "type": "quantitative", "scale": {"domain": [0, 1200], "nice": false}, "axis": {"orient": "left", "title": null, "labels": false, "domain": false, "ticks": false, "grid": true, "values": [0,200,400,600,800,1000,1200]}}}},
  {"data": {"name": "a4"}, "mark": {"type": "rule", "color": "#e4264a", "strokeWidth": 1.5}, "encoding": {"x": {"field": "x1", "type": "quantitative"}, "x2": {"field": "x2"}, "y": {"field": "y", "type": "quantitative", "axis": {"orient": "left", "title": "Cov.", "format": "d", "grid": false, "labelOverlap": false, "values": [0,200,400,600,800,1000]}}}},
  {"data": {"name": "a4"}, "mark": {"type": "point", "shape": "triangle-left", "filled": true, "size": 36, "color": "#e4264a", "opacity": 1}, "encoding": {"x": {"field": "x1", "type": "quantitative"}, "y": {"field": "y", "type": "quantitative", "axis": null}}},
  {"data": {"name": "a4"}, "mark": {"type": "point", "shape": "triangle-right", "filled": true, "size": 36, "color": "#e4264a", "opacity": 1}, "encoding": {"x": {"field": "x2", "type": "quantitative"}, "y": {"field": "y", "type": "quantitative", "axis": null}}}
 ]},
{"width": 281, "height": 180, "title": {"text": "Segment 5, NP (1562 nt; AC: x236)", "frame": "group"}, "resolve": {"axis": {"y": "independent"}},
 "layer": [
  {"data": {"name": "p5"}, "mark": {"type": "point", "shape": "diamond", "filled": true, "size": 24, "color": "#5c6598", "opacity": 1},
   "encoding": {"x": {"field": "x", "type": "quantitative", "scale": {"domain": [0, 1770], "nice": false}, "axis": {"title": "nt", "titleX": 283, "format": "d", "values": [0,500,1000,1500]}},
    "y": {"field": "y", "type": "quantitative", "scale": {"domain": [0, 700], "nice": false}, "axis": {"orient": "left", "title": null, "labels": false, "domain": false, "ticks": false, "grid": true, "values": [0,100,200,300,400,500,600,700]}}}},
  {"data": {"name": "a5"}, "mark": {"type": "rule", "color": "#e4264a", "strokeWidth": 1.5}, "encoding": {"x": {"field": "x1", "type": "quantitative"}, "x2": {"field": "x2"}, "y": {"field": "y", "type": "quantitative", "axis": {"orient": "left", "title": "Cov.", "format": "d", "grid": false, "labelOverlap": false, "values": [0,200,400,600]}}}},
  {"data": {"name": "a5"}, "mark": {"type": "point", "shape": "triangle-left", "filled": true, "size": 36, "color": "#e4264a", "opacity": 1}, "encoding": {"x": {"field": "x1", "type": "quantitative"}, "y": {"field": "y", "type": "quantitative", "axis": null}}},
  {"data": {"name": "a5"}, "mark": {"type": "point", "shape": "triangle-right", "filled": true, "size": 36, "color": "#e4264a", "opacity": 1}, "encoding": {"x": {"field": "x2", "type": "quantitative"}, "y": {"field": "y", "type": "quantitative", "axis": null}}}
 ]},
{"width": 286, "height": 180, "title": {"text": "Segment 6, NA (1443 nt; AC: x182)", "frame": "group"}, "resolve": {"axis": {"y": "independent"}},
 "layer": [
  {"data": {"name": "p6"}, "mark": {"type": "point", "shape": "diamond", "filled": true, "size": 24, "color": "#5c6598", "opacity": 1},
   "encoding": {"x": {"field": "x", "type": "quantitative", "scale": {"domain": [0, 1600], "nice": false}, "axis": {"title": "nt", "titleX": 288, "format": "d", "values": [0,500,1000,1400]}},
    "y": {"field": "y", "type": "quantitative", "scale": {"domain": [0, 500], "nice": false}, "axis": {"orient": "left", "title": null, "labels": false, "domain": false, "ticks": false, "grid": true, "values": [0,50,100,150,200,250,300,350,400,450,500]}}}},
  {"data": {"name": "a6"}, "mark": {"type": "rule", "color": "#e4264a", "strokeWidth": 1.5}, "encoding": {"x": {"field": "x1", "type": "quantitative"}, "x2": {"field": "x2"}, "y": {"field": "y", "type": "quantitative", "axis": {"orient": "left", "title": "Cov.", "format": "d", "grid": false, "labelOverlap": false, "values": [0,100,200,300,400]}}}},
  {"data": {"name": "a6"}, "mark": {"type": "point", "shape": "triangle-left", "filled": true, "size": 36, "color": "#e4264a", "opacity": 1}, "encoding": {"x": {"field": "x1", "type": "quantitative"}, "y": {"field": "y", "type": "quantitative", "axis": null}}},
  {"data": {"name": "a6"}, "mark": {"type": "point", "shape": "triangle-right", "filled": true, "size": 36, "color": "#e4264a", "opacity": 1}, "encoding": {"x": {"field": "x2", "type": "quantitative"}, "y": {"field": "y", "type": "quantitative", "axis": null}}}
 ]},
{"width": 281, "height": 180, "title": {"text": "Segment 7, M (1026 nt; AC: x247)", "frame": "group"}, "resolve": {"axis": {"y": "independent"}},
 "layer": [
  {"data": {"name": "p7"}, "mark": {"type": "point", "shape": "diamond", "filled": true, "size": 24, "color": "#5c6598", "opacity": 1},
   "encoding": {"x": {"field": "x", "type": "quantitative", "scale": {"domain": [0, 1195], "nice": false}, "axis": {"title": "nt", "titleX": 283, "format": "d", "values": [0,500,1000]}},
    "y": {"field": "y", "type": "quantitative", "scale": {"domain": [0, 900], "nice": false}, "axis": {"orient": "left", "title": null, "labels": false, "domain": false, "ticks": false, "grid": true, "values": [0,100,200,300,400,500,600,700,800,900]}}}},
  {"data": {"name": "a7"}, "mark": {"type": "rule", "color": "#e4264a", "strokeWidth": 1.5}, "encoding": {"x": {"field": "x1", "type": "quantitative"}, "x2": {"field": "x2"}, "y": {"field": "y", "type": "quantitative", "axis": {"orient": "left", "title": "Cov.", "format": "d", "grid": false, "labelOverlap": false, "values": [0,200,400,600,800]}}}},
  {"data": {"name": "a7"}, "mark": {"type": "point", "shape": "triangle-left", "filled": true, "size": 36, "color": "#e4264a", "opacity": 1}, "encoding": {"x": {"field": "x1", "type": "quantitative"}, "y": {"field": "y", "type": "quantitative", "axis": null}}},
  {"data": {"name": "a7"}, "mark": {"type": "point", "shape": "triangle-right", "filled": true, "size": 36, "color": "#e4264a", "opacity": 1}, "encoding": {"x": {"field": "x2", "type": "quantitative"}, "y": {"field": "y", "type": "quantitative", "axis": null}}}
 ]},
{"width": 286, "height": 180, "title": {"text": "Segment 8, NS (892 nt; AC: x463)", "frame": "group"}, "resolve": {"axis": {"y": "independent"}},
 "layer": [
  {"data": {"name": "p8"}, "mark": {"type": "point", "shape": "diamond", "filled": true, "size": 24, "color": "#5c6598", "opacity": 1},
   "encoding": {"x": {"field": "x", "type": "quantitative", "scale": {"domain": [0, 1015], "nice": false}, "axis": {"title": "nt", "titleX": 288, "format": "d", "values": [0,500,800]}},
    "y": {"field": "y", "type": "quantitative", "scale": {"domain": [0, 4500], "nice": false}, "axis": {"orient": "left", "title": null, "labels": false, "domain": false, "ticks": false, "grid": true, "values": [0,500,1000,1500,2000,2500,3000,3500,4000,4500]}}}},
  {"data": {"name": "a8"}, "mark": {"type": "rule", "color": "#e4264a", "strokeWidth": 1.5}, "encoding": {"x": {"field": "x1", "type": "quantitative"}, "x2": {"field": "x2"}, "y": {"field": "y", "type": "quantitative", "axis": {"orient": "left", "title": "Cov.", "format": "d", "grid": false, "labelOverlap": false, "values": [0,1000,2000,3000,4000]}}}},
  {"data": {"name": "a8"}, "mark": {"type": "point", "shape": "triangle-left", "filled": true, "size": 36, "color": "#e4264a", "opacity": 1}, "encoding": {"x": {"field": "x1", "type": "quantitative"}, "y": {"field": "y", "type": "quantitative", "axis": null}}},
  {"data": {"name": "a8"}, "mark": {"type": "point", "shape": "triangle-right", "filled": true, "size": 36, "color": "#e4264a", "opacity": 1}, "encoding": {"x": {"field": "x2", "type": "quantitative"}, "y": {"field": "y", "type": "quantitative", "axis": null}}}
 ]}
],
"columns": 2,
"spacing": {"row": 42, "column": 45},
"bounds": "flush",
"config": {
 "background": "#ffffff",
 "view": {"stroke": null},
 "font": "Liberation Sans",
 "title": {"font": "Liberation Sans", "fontSize": 13.5, "fontWeight": "normal", "color": "#000000", "offset": -3},
 "axis": {"labelFont": "Liberation Sans", "labelFontSize": 9.5, "labelColor": "#000000", "titleFont": "Liberation Sans", "titleFontWeight": "normal", "titleFontSize": 10, "titleColor": "#000000", "labelFlush": false},
 "axisY": {"gridColor": "#bdbdbd", "gridWidth": 1, "domainColor": "#999999", "domainWidth": 1.5, "ticks": false, "labelPadding": 3, "titleAngle": 0, "titleAlign": "right", "titleBaseline": "middle", "titleX": -2, "titleY": 1},
 "axisX": {"grid": false, "domainColor": "#333333", "domainWidth": 1, "tickColor": "#555555", "tickSize": 3, "labelPadding": -1, "titleAlign": "right", "titleBaseline": "top", "titleY": 2}
}
}
